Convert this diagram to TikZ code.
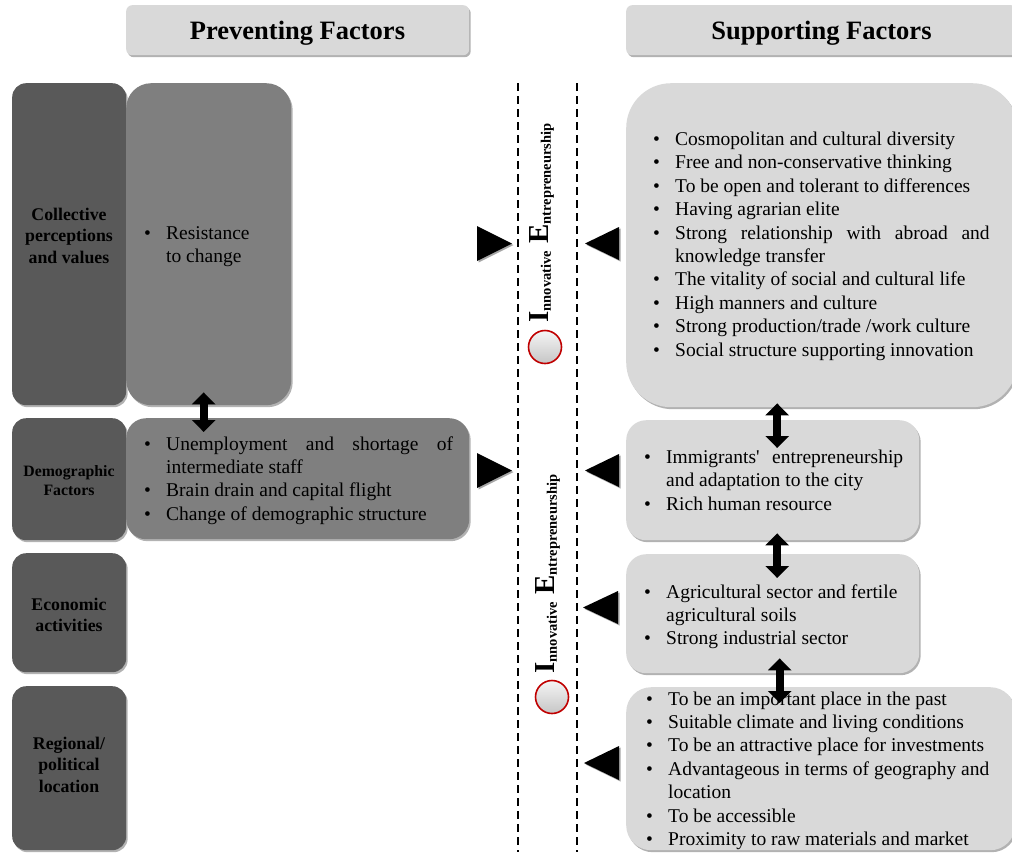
\documentclass[tikz,border=0pt]{standalone}
\usepackage{fontspec}
\setmainfont{Liberation Serif}
\usetikzlibrary{shadows,arrows.meta,calc}
\definecolor{catgray}{HTML}{595959}
\definecolor{prevgray}{HTML}{7F7F7F}
\definecolor{suppgray}{HTML}{D9D9D9}
\definecolor{ringred}{HTML}{C00000}
\newlength{\bw}\setlength{\bw}{22pt}
\newcommand{\bodyf}{\fontsize{19.5}{23.4}\selectfont}
\newcommand{\bi}[1]{\noindent\makebox[\bw][l]{\textbullet}#1\par}
\newcommand{\bjust}[1]{\noindent\makebox[\bw][l]{\textbullet}\makebox[\dimexpr\linewidth-\bw\relax][s]{#1}\par}
\newcommand{\bcont}[1]{\noindent\hspace*{\bw}#1\par}
\newcommand{\ielabel}{\bfseries\fontsize{29}{29}\selectfont I\raisebox{-2pt}{\fontsize{14.5}{14.5}\selectfont nnovative}\ E\raisebox{-2pt}{\fontsize{14.5}{14.5}\selectfont ntrepreneurship}}
\begin{document}
\begin{tikzpicture}[x=1pt,y=-1pt,
  shad/.style={drop shadow={shadow xshift=1.5pt,shadow yshift=-2pt,fill=black,opacity=0.3}},
  catbox/.style={fill=catgray,rounded corners=14pt,shad,anchor=north west,inner sep=0},
  prevbox/.style={fill=prevgray,shad,anchor=north west,inner sep=0},
  suppbox/.style={fill=suppgray,shad,anchor=north west,inner sep=0},
  headbox/.style={fill=suppgray,rounded corners=6pt,shad,anchor=north west,inner sep=0},
  headtext/.style={anchor=base,inner sep=0,font=\bfseries\fontsize{26.5}{30}\selectfont},
  cattext/.style={anchor=base,inner sep=0},
  listtext/.style={anchor=base west,inner sep=0},
  dbl/.style={line width=8pt,{Triangle[length=12pt,width=23pt]}-{Triangle[length=12pt,width=23pt]}},
  tri/.style={fill=black,drop shadow={shadow xshift=1.5pt,shadow yshift=-1.5pt,fill=black,opacity=0.35}},
  divider/.style={line width=1.8pt,dash pattern=on 8pt off 5pt},
  ring/.style={circle,draw=ringred,line width=1.6pt,top color=gray!8,bottom color=gray!45,minimum size=33pt,inner sep=0},
  vlabel/.style={rotate=90,inner sep=0}
]
\clip (0,0) rectangle (1012,852);
\fill[white] (0,0) rectangle (1012,852);

% headers
\node[headbox,minimum width=343pt,minimum height=50pt] (hp) at (126,5) {};
\node[headtext] (hpt) at (297.5,39) {Preventing Factors};
\node[headbox,minimum width=391pt,minimum height=50pt] (hs) at (626,5) {};
\node[headtext] (hst) at (821.5,39) {Supporting Factors};

% category boxes
\node[catbox,minimum width=114pt,minimum height=322pt] (c1) at (12,83) {};
\node[catbox,minimum width=114pt,minimum height=122pt] (c2) at (12,418) {};
\node[catbox,minimum width=114pt,minimum height=119pt] (c3) at (12,553) {};
\node[catbox,minimum width=114pt,minimum height=164pt] (c4) at (12,686) {};

\node[cattext] (c1t) at (69,220) {\parbox[t]{110pt}{\centering\bfseries\fontsize{17.8}{21.5}\selectfont Collective\\perceptions\\and values}};
\node[cattext] (c2t) at (69,476) {\parbox[t]{110pt}{\centering\bfseries\fontsize{15.8}{19.5}\selectfont Demographic\\Factors}};
\node[cattext] (c3t) at (69,610) {\parbox[t]{110pt}{\centering\bfseries\fontsize{17.8}{21.5}\selectfont Economic\\activities}};
\node[cattext] (c4t) at (69,749) {\parbox[t]{110pt}{\centering\bfseries\fontsize{17.8}{21.8}\selectfont Regional/\\political\\location}};

% preventing boxes
\node[prevbox,rounded corners=25pt,minimum width=165pt,minimum height=322pt] (p1) at (126,83) {};
\node[prevbox,rounded corners=20pt,minimum width=343pt,minimum height=121pt] (p2) at (126,418) {};
\node[listtext] (p1t) at (144,239.5) {\parbox[t]{140pt}{\bodyf\bi{Resistance}\bcont{to change}}};
\node[listtext] (p2t) at (144,450) {\parbox[t]{309pt}{\bodyf
\bjust{Unemployment and shortage of}
\bcont{intermediate staff}
\bi{Brain drain and capital flight}
\bi{Change of demographic structure}}};

% supporting boxes
\node[suppbox,rounded corners=45pt,minimum width=391pt,minimum height=324pt] (s1) at (626,83) {};
\node[suppbox,rounded corners=20pt,minimum width=293pt,minimum height=120pt] (s2) at (626,420) {};
\node[suppbox,rounded corners=20pt,minimum width=293pt,minimum height=119pt] (s3) at (626,554) {};
\node[suppbox,rounded corners=25pt,minimum width=389pt,minimum height=163pt] (s4) at (626,687) {};

\node[listtext] (s1t) at (653,145.5) {\parbox[t]{336.5pt}{\bodyf
\bi{Cosmopolitan and cultural diversity}
\bi{Free and non-conservative thinking}
\bi{To be open and tolerant to differences}
\bi{Having agrarian elite}
\bjust{Strong relationship with abroad and}
\bcont{knowledge transfer}
\bi{The vitality of social and cultural life}
\bi{High manners and culture}
\bi{Strong production/trade /work culture}
\bi{Social structure supporting innovation}}};
\node[listtext] (s2t) at (644,463.5) {\parbox[t]{259pt}{\bodyf
\bjust{Immigrants\textquotesingle{} entrepreneurship}
\bcont{and adaptation to the city}
\bi{Rich human resource}}};
\node[listtext] (s3t) at (644,598) {\parbox[t]{259pt}{\bodyf
\bi{Agricultural sector and fertile}
\bcont{agricultural soils}
\bi{Strong industrial sector}}};
\node[listtext] (s4t) at (646,705) {\parbox[t]{366pt}{\bodyf
\bi{To be an important place in the past}
\bi{Suitable climate and living conditions}
\bi{To be an attractive place for investments}
\bi{Advantageous in terms of geography and}
\bcont{location}
\bi{To be accessible}
\bi{Proximity to raw materials and market}}};

% double arrows
\draw[dbl] ([xshift=-5pt,yshift=13pt]p1.south) -- ([xshift=-5pt,yshift=-14pt]p1.south |- p2.north);
\draw[dbl] ([xshift=4.5pt,yshift=4pt]s1.south -| s2.north) -- ([xshift=4.5pt,yshift=-28pt]s2.north);
\draw[dbl] ([xshift=4.5pt,yshift=7pt]s2.south) -- ([xshift=4.5pt,yshift=-24pt]s3.north);
\draw[dbl] ([xshift=7pt,yshift=15pt]s3.south) -- ([xshift=7pt,yshift=-16pt]s3.south |- s4.north);

% dividers
\coordinate (dl1) at (518,83);
\coordinate (dl2) at (518,852);
\coordinate (dr1) at (577,83);
\coordinate (dr2) at (577,852);
\draw[divider] (dl1) -- (dl2);
\draw[divider] (dr1) -- (dr2);

% triangles
\fill[tri] (477,226) -- (512,243.5) -- (477,261) -- cycle;
\fill[tri] (477,453) -- (512,470.5) -- (477,488) -- cycle;
\fill[tri] (619,227) -- (585,243.5) -- (619,260) -- cycle;
\fill[tri] (619,454) -- (585,470.5) -- (619,487) -- cycle;
\fill[tri] (618,591) -- (583,607.5) -- (618,624) -- cycle;
\fill[tri] (619,746) -- (584,763) -- (619,780) -- cycle;

% vertical labels and rings
\node[vlabel] (v1) at (542,223) {\ielabel};
\node[vlabel] (v2) at (548,574) {\ielabel};
\node[ring] (r1) at (545,347) {};
\node[ring] (r2) at (552,697) {};
\end{tikzpicture}
\end{document}
